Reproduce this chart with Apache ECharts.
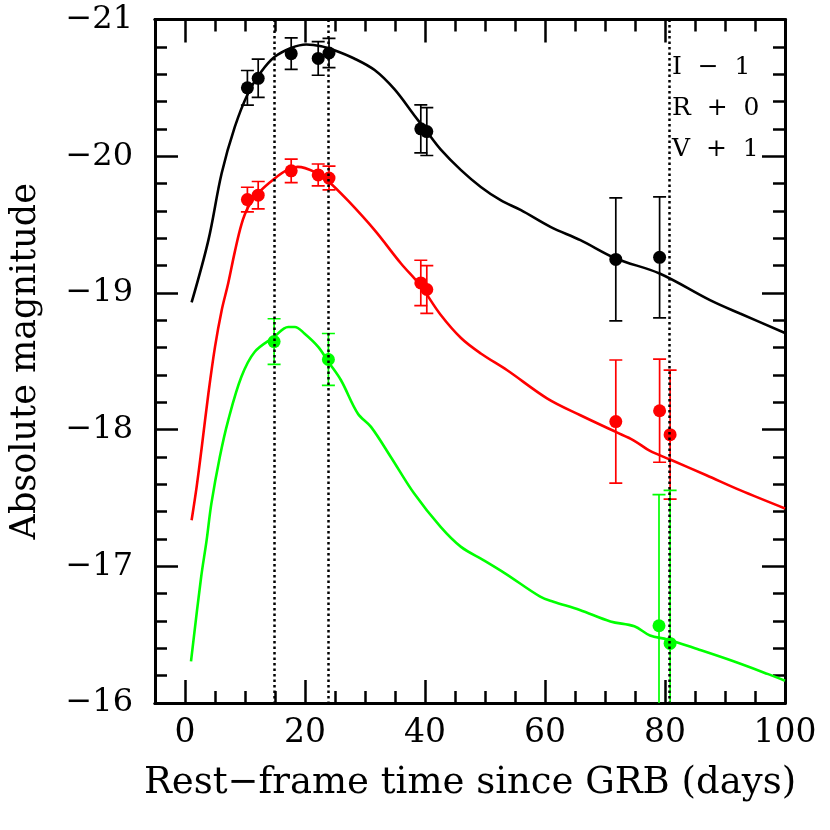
<!DOCTYPE html>
<html>
<head>
<meta charset="utf-8">
<script src="https://cdn.jsdelivr.net/npm/echarts@6/dist/echarts.min.js"></script>
<style>html,body{margin:0;padding:0;background:#fff}#c{width:830px;height:830px}</style>
</head>
<body>
<div id="c"></div>
<script>
// ---- data ----
// observed points: rest-frame day, absolute magnitude, 1-sigma error
const iDays = [10.4, 12.2, 17.7, 22.2, 24.0, 39.3, 40.3, 71.8, 79.1];
const iMags = [-20.50, -20.57, -20.75, -20.715, -20.755, -20.20, -20.18, -19.245, -19.26];
const iErrs = [0.127, 0.14, 0.115, 0.123, 0.107, 0.175, 0.175, 0.45, 0.443];

const rDays = [10.4, 12.2, 17.7, 22.2, 24.0, 39.3, 40.3, 71.8, 79.1, 80.85];
const rMags = [-19.683, -19.715, -19.893, -19.863, -19.84, -19.073, -19.025, -18.059, -18.138, -17.963];
const rErrs = [0.09, 0.1, 0.086, 0.08, 0.087, 0.166, 0.175, 0.45, 0.377, 0.472];

const vDays = [14.85, 23.9, 79.0, 80.85];
const vMags = [-18.644, -18.513, -16.565, -16.436];
const vErrs = [0.167, 0.19, 0.96, 1.12];

// model light curves
const iCurveDays = [1.1, 3.9, 6.1, 8.3, 10.5, 12.7, 14.95, 17.7, 20.2, 22.7, 24.9, 28.2, 31.6, 34.9, 38.2, 40.3, 42.6, 46.0, 49.3, 52.6, 56.0, 60.9, 65.9, 71.8, 79.1, 87.5, 92.5, 100];
const iCurveMags = [-18.93, -19.386, -19.873, -20.214, -20.459, -20.617, -20.727, -20.792, -20.817, -20.805, -20.775, -20.715, -20.63, -20.49, -20.30, -20.18, -20.05, -19.898, -19.775, -19.678, -19.605, -19.483, -19.386, -19.252, -19.142, -18.947, -18.849, -18.707];

const rCurveDays = [1.1, 1.94, 2.8, 3.9, 5.0, 6.1, 7.2, 8.3, 9.4, 10.5, 12.2, 14.95, 17.2, 18.8, 21.6, 24.0, 27.1, 31.6, 36.0, 39.3, 42.6, 46.0, 49.3, 53.7, 60.4, 65.9, 71.8, 74.75, 77.5, 80.85, 86.9, 92.5, 100];
const rCurveMags = [-17.337, -17.581, -17.874, -18.264, -18.605, -18.87, -19.07, -19.3, -19.5, -19.625, -19.73, -19.837, -19.903, -19.922, -19.885, -19.812, -19.678, -19.459, -19.215, -19.05, -18.84, -18.67, -18.557, -18.434, -18.227, -18.105, -17.983, -17.922, -17.844, -17.781, -17.666, -17.557, -17.423];

const vCurveDays = [1.0, 2.66, 3.6, 4.4, 5.8, 7.2, 9.4, 11.6, 14.85, 17.2, 18.3, 19.9, 22.2, 23.9, 26.0, 28.8, 31.0, 34.3, 38.2, 42.6, 46.0, 49.8, 53.4, 59.2, 61.4, 65.8, 70.9, 74.9, 77.5, 80.4, 85.5, 91.3, 97.2, 100];
const vCurveMags = [-16.304, -16.911, -17.19, -17.46, -17.8, -18.068, -18.386, -18.568, -18.678, -18.751, -18.751, -18.703, -18.605, -18.495, -18.361, -18.118, -18.02, -17.8, -17.532, -17.288, -17.142, -17.044, -16.947, -16.778, -16.741, -16.681, -16.597, -16.561, -16.494, -16.465, -16.393, -16.307, -16.211, -16.163];

// epochs of the spectra (dotted lines)
const epochDays = [14.85, 23.9, 80.75];

// band labels with offsets
const bandLabels = ['I  \u2212  1', 'R  +  0', 'V  +  1'];

// axis ticks
const xMajor = [0, 20, 40, 60, 80, 100];
const xMinor = [-5, 5, 10, 15, 25, 30, 35, 45, 50, 55, 65, 70, 75, 85, 90, 95];
const yMajor = [-21, -20, -19, -18, -17, -16];
const yMinor = [];
for (let m = -21; m < -16; m++) for (let k = 1; k <= 4; k++) yMinor.push(+(m + k * 0.2).toFixed(1));

const xTitle = 'Rest\u2212frame time since GRB (days)';
const yTitle = 'Absolute magnitude';

// ---- chart ----
const FONT = 'DejaVu Serif';
const BLACK = '#000000', RED = '#ff0000', GREEN = '#00ff00';

function zip(a, b) { return a.map((v, i) => [v, b[i]]); }
function zip3(a, b, c) { return a.map((v, i) => [v, b[i], c[i]]); }

function xAxisDef(pos, ticks, len, labels) {
  return {
    type: 'value', min: -5, max: 100, position: pos, gridIndex: 0,
    axisLine: { show: true, onZero: false, lineStyle: { color: '#000', width: 3 } },
    axisTick: { show: true, inside: true, length: len, customValues: ticks, lineStyle: { color: '#000', width: 2.5 } },
    axisLabel: labels ? { show: true, customValues: xMajor, fontFamily: FONT, fontSize: 33, color: '#000', margin: 14 } : { show: false },
    splitLine: { show: false },
    name: labels ? xTitle : '', nameLocation: 'middle', nameGap: 62,
    nameTextStyle: { fontFamily: FONT, fontSize: 37, color: '#000' }
  };
}
function yAxisDef(pos, ticks, len, labels) {
  return {
    type: 'value', min: -21, max: -16, inverse: true, position: pos, gridIndex: 0,
    axisLine: { show: true, onZero: false, lineStyle: { color: '#000', width: 3 } },
    axisTick: { show: true, inside: true, length: len, customValues: ticks, lineStyle: { color: '#000', width: 2.5 } },
    axisLabel: labels ? {
      show: true, customValues: yMajor, fontFamily: FONT, fontSize: 32, color: '#000', margin: 22,
      formatter: v => '\u2212' + Math.abs(v)
    } : { show: false },
    splitLine: { show: false },
    name: labels ? yTitle : '', nameLocation: 'middle', nameGap: 112, nameRotate: 90,
    nameTextStyle: { fontFamily: FONT, fontSize: 35, color: '#000' }
  };
}

function errorSeries(days, mags, errs, color) {
  return {
    type: 'custom', xAxisIndex: 0, yAxisIndex: 0, clip: true, z: 3,
    data: zip3(days, mags, errs),
    renderItem: function (params, api) {
      const x = api.value(0), m = api.value(1), e = api.value(2);
      const top = api.coord([x, m - e]);
      const bot = api.coord([x, m + e]);
      const hw = 6.5;
      const st = { stroke: color, lineWidth: 1.7 };
      return {
        type: 'group', children: [
          { type: 'line', shape: { x1: top[0], y1: top[1], x2: bot[0], y2: bot[1] }, style: st },
          { type: 'line', shape: { x1: top[0] - hw, y1: top[1], x2: top[0] + hw, y2: top[1] }, style: st },
          { type: 'line', shape: { x1: bot[0] - hw, y1: bot[1], x2: bot[0] + hw, y2: bot[1] }, style: st }
        ]
      };
    }
  };
}
function pointSeries(days, mags, color) {
  return {
    type: 'scatter', xAxisIndex: 0, yAxisIndex: 0, z: 4,
    data: zip(days, mags), symbol: 'circle', symbolSize: 13,
    itemStyle: { color: color, opacity: 1 }
  };
}
function curveSeries(days, mags, color, extra) {
  return Object.assign({
    type: 'line', xAxisIndex: 0, yAxisIndex: 0, z: 2,
    data: zip(days, mags), showSymbol: false, smooth: 0.35, clip: true,
    lineStyle: { color: color, width: 2.6 }
  }, extra || {});
}

const chart = echarts.init(document.getElementById('c'), null, { renderer: 'canvas' });
const gridLeft = 153, gridTop = 19.5, gridRight = 45, gridBottom = 127;

chart.setOption({
  animation: false,
  backgroundColor: '#fff',
  grid: { left: gridLeft, top: gridTop, right: gridRight, bottom: gridBottom, containLabel: false },
  xAxis: [
    xAxisDef('bottom', xMajor, 23, true),
    xAxisDef('bottom', xMinor, 12, false),
    xAxisDef('top', xMajor, 23, false),
    xAxisDef('top', xMinor, 12, false)
  ],
  yAxis: [
    yAxisDef('left', yMajor, 23, true),
    yAxisDef('left', yMinor, 12, false),
    yAxisDef('right', yMajor, 23, false),
    yAxisDef('right', yMinor, 12, false)
  ],
  series: [
    curveSeries(iCurveDays, iCurveMags, BLACK, {
      markLine: {
        silent: true, symbol: ['none', 'none'], label: { show: false },
        lineStyle: { color: '#000', width: 2.5, type: [2.5, 3] },
        data: epochDays.map(d => ({ xAxis: d }))
      }
    }),
    curveSeries(rCurveDays, rCurveMags, RED),
    curveSeries(vCurveDays, vCurveMags, GREEN),
    errorSeries(iDays, iMags, iErrs, BLACK),
    errorSeries(rDays, rMags, rErrs, RED),
    errorSeries(vDays, vMags, vErrs, GREEN),
    pointSeries(iDays, iMags, BLACK),
    pointSeries(rDays, rMags, RED),
    pointSeries(vDays, vMags, GREEN)
  ],
  graphic: bandLabels.map((t, i) => ({
    type: 'text', left: 672, top: 55 + i * 41, z: 10,
    style: { text: t, font: '25px "DejaVu Serif"', fill: '#000' }
  }))
});
</script>
</body>
</html>
